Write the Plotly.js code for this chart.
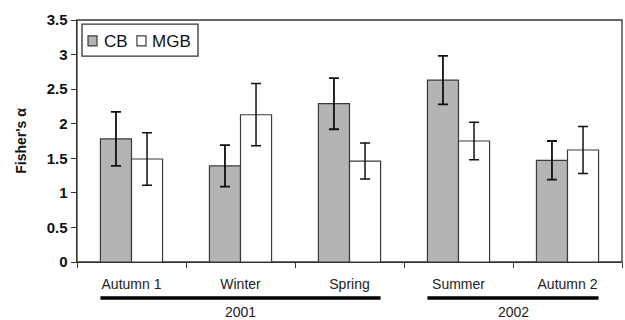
<!DOCTYPE html>
<html><head><meta charset="utf-8">
<script src="https://cdn.plot.ly/plotly-3.0.1.min.js"></script>
<style>body{margin:0;background:#fff}#chart{width:625px;height:320px}</style>
</head><body><div id="chart"></div>
<script>
const categories = ["Autumn 1", "Winter", "Spring", "Summer", "Autumn 2"];
const seriesNames = ["CB", "MGB"];
const cbValues = [1.78, 1.39, 2.29, 2.63, 1.47];
const cbErrors = [0.39, 0.30, 0.37, 0.35, 0.28];
const mgbValues = [1.49, 2.13, 1.46, 1.75, 1.62];
const mgbErrors = [0.38, 0.45, 0.26, 0.27, 0.34];
const yearLabels = ["2001", "2002"];
const yearSpans = [[0, 2], [3, 4]];

const font = "Liberation Sans, Arial, sans-serif";
const half = 0.285;
const fills = ["#b4b4b4", "#ffffff"];

const traces = [
  {type: "bar", name: seriesNames[0], x: categories, y: cbValues,
   marker: {color: fills[0], line: {color: "#3a3a3a", width: 1.2}},
   error_y: {type: "data", array: cbErrors, visible: true, color: "#111", thickness: 1.8, width: 5}},
  {type: "bar", name: seriesNames[1], x: categories, y: mgbValues,
   marker: {color: fills[1], line: {color: "#3a3a3a", width: 1.2}},
   error_y: {type: "data", array: mgbErrors, visible: true, color: "#111", thickness: 1.5, width: 5}}
];

const shapes = yearSpans.map(s => ({
  type: "line", xref: "x", yref: "paper",
  x0: s[0] - half, x1: s[1] + half, y0: -0.149, y1: -0.149,
  line: {color: "#000", width: 3.5}
}));
shapes.push({type: "rect", xref: "paper", yref: "paper", x0: 0, x1: 1, y0: 0, y1: 1,
  line: {color: "#333", width: 1.3}, layer: "below"});

// legend box
shapes.push({type: "rect", xref: "paper", yref: "paper", x0: 0.0092, x1: 0.222, y0: 0.851, y1: 0.983,
  line: {color: "#333", width: 1.3}, fillcolor: "#fff"});
const legendSq = [[0.0202, 0.0367], [0.110, 0.1266]];
const legendTx = [0.0459, 0.134];
legendSq.forEach((s, i) => shapes.push({type: "rect", xref: "paper", yref: "paper",
  x0: s[0], x1: s[1], y0: 0.893, y1: 0.934, fillcolor: fills[i], line: {color: "#3a3a3a", width: 1.2}}));

const annotations = yearSpans.map((s, i) => ({
  xref: "x", yref: "paper", x: (s[0] + s[1]) / 2, y: -0.207,
  text: yearLabels[i], showarrow: false, yanchor: "middle",
  font: {family: font, size: 14, color: "#222"}
}));
legendTx.forEach((x, i) => annotations.push({xref: "paper", yref: "paper", x: x, y: 0.913,
  xanchor: "left", yanchor: "middle", showarrow: false, text: seriesNames[i],
  font: {family: font, size: 17, color: "#111"}}));

const layout = {
  width: 625, height: 320,
  margin: {l: 77, r: 3, t: 20, b: 58},
  paper_bgcolor: "#fff", plot_bgcolor: "#fff",
  barmode: "group", bargap: 0.43, bargroupgap: 0,
  showlegend: false,
  xaxis: {type: "category", showline: true, linecolor: "#333", linewidth: 1.3,
    ticks: "outside", tickson: "boundaries", ticklen: 5, tickcolor: "#333", ticklabelstandoff: 9,
    tickfont: {family: font, size: 14, color: "#222"}, showgrid: false, zeroline: false},
  yaxis: {range: [0, 3.5], dtick: 0.5, showline: true, linecolor: "#333", linewidth: 1.5,
    ticks: "outside", ticklen: 5, tickcolor: "#333", showgrid: false, zeroline: false,
    tickfont: {family: font, size: 15, color: "#111", weight: "bold"},
    title: {text: "Fisher's α", font: {family: font, size: 14, color: "#111", weight: "bold"}, standoff: 16}},
  shapes: shapes,
  annotations: annotations
};

Plotly.newPlot("chart", traces, layout, {displayModeBar: false, staticPlot: true});
</script></body></html>
